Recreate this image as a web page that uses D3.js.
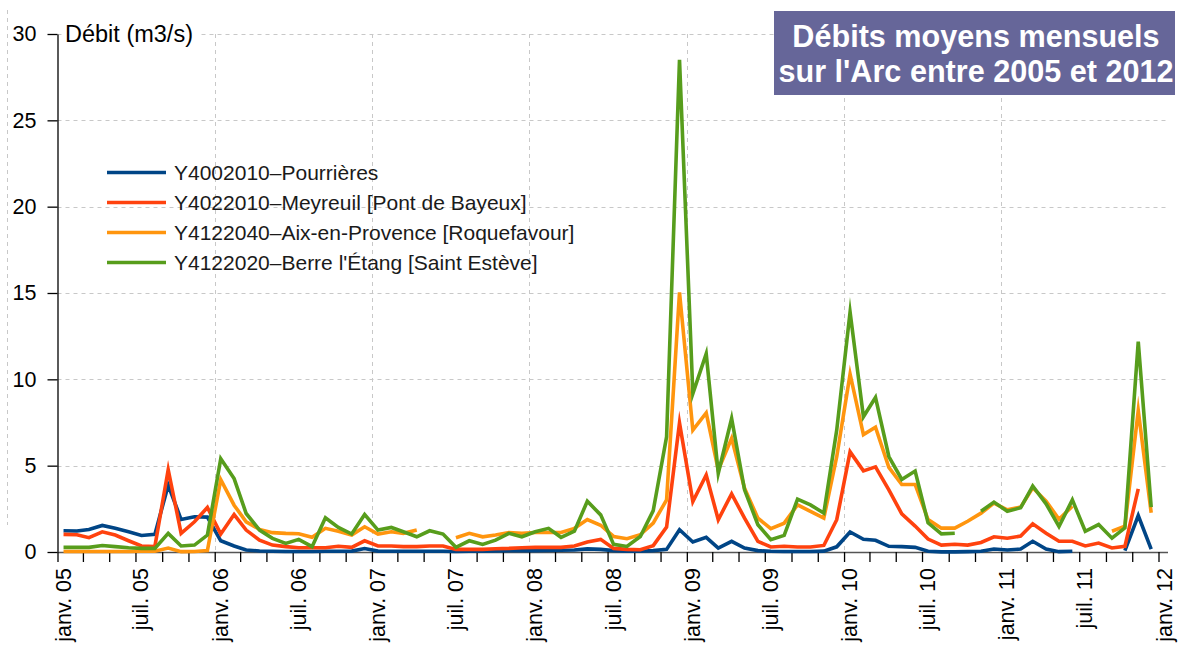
<!DOCTYPE html>
<html>
<head>
<meta charset="utf-8">
<script src="https://cdn.jsdelivr.net/npm/d3@7"></script>
<style>
  html, body { margin: 0; padding: 0; background: #ffffff; }
  svg { display: block; font-family: 'Liberation Sans', Arial, Helvetica, sans-serif; }
</style>
</head>
<body>
<svg id="chart" width="1179" height="653"></svg>
<script>
// Monthly mean discharge (m3/s), January 2005 to December 2011, one value per month.
// null = no measurement for that month.
const firstMonth = new Date(2005, 0, 1);
const lastMonth = new Date(2011, 11, 1);

const pourrieres = [
  1.23, 1.22, 1.30, 1.54, 1.37, 1.17, 0.96, 1.02, 3.87, 1.88, 2.04, 2.02,
  0.65, 0.35, 0.12, 0.06, 0.04, 0.03, 0.03, 0.03, 0.04, 0.04, 0.05, 0.20,
  0.05, 0.04, 0.04, 0.04, 0.04, 0.04, 0.03, 0.04, 0.05, 0.06, 0.07, 0.08,
  0.08, 0.09, 0.10, 0.12, 0.18, 0.15, 0.08, 0.04, 0.04, 0.08, 0.15, 1.29,
  0.58, 0.85, 0.23, 0.62, 0.23, 0.08, 0.04, 0.03, 0.03, 0.03, 0.05, 0.30,
  1.16, 0.74, 0.68, 0.33, 0.31, 0.27, 0.04, 0.01, 0.01, 0.02, 0.04, 0.17,
  0.12, 0.17, 0.62, 0.17, 0.02, 0.04, null, null, null, 0.08, 2.11, 0.17
];

const meyreuil = [
  1.02, 1.00, 0.83, 1.17, 0.98, 0.65, 0.35, 0.31, 4.77, 1.08, 1.75, 2.58,
  1.04, 2.17, 1.27, 0.69, 0.40, 0.31, 0.25, 0.25, 0.25, 0.33, 0.27, 0.65,
  0.35, 0.35, 0.31, 0.31, 0.35, 0.35, 0.15, 0.15, 0.15, 0.19, 0.21, 0.25,
  0.27, 0.27, 0.27, 0.35, 0.58, 0.73, 0.21, 0.15, 0.13, 0.37, 1.44, 7.48,
  2.92, 4.46, 1.87, 3.37, 1.96, 0.62, 0.29, 0.33, 0.29, 0.29, 0.38, 1.87,
  5.80, 4.70, 4.93, 3.60, 2.21, 1.50, 0.75, 0.40, 0.45, 0.40, 0.55, 0.88,
  0.80, 0.92, 1.63, 1.09, 0.62, 0.62, 0.35, 0.52, 0.23, 0.33, 3.66, null
];

const roquefavour = [
  0.03, 0.03, 0.03, 0.03, 0.03, 0.03, 0.04, 0.04, 0.23, 0.02, 0.03, 0.08,
  4.19, 2.71, 1.75, 1.31, 1.12, 1.08, 1.06, 0.85, 1.37, 1.20, 0.98, 1.46,
  1.04, 1.17, 1.08, 1.27, null, null, 0.83, 1.08, 0.88, 0.98, 1.13, 1.08,
  1.13, 1.13, 1.13, 1.37, 1.88, 1.55, 0.90, 0.77, 1.00, 1.67, 3.02, 15.04,
  7.06, 8.06, 4.75, 6.58, 3.69, 1.96, 1.35, 1.67, 2.73, 2.35, 1.96, 5.52,
  10.30, 6.80, 7.23, 4.90, 3.91, 3.91, 1.88, 1.38, 1.38, 1.78, 2.25, 2.83,
  2.44, 2.60, 3.72, 2.95, 1.90, 2.65, null, null, 1.20, 1.50, 8.20, 2.27
];

const saintEsteve = [
  0.27, 0.27, 0.27, 0.38, 0.31, 0.25, 0.21, 0.21, 1.08, 0.35, 0.40, 0.98,
  5.40, 4.25, 2.23, 1.27, 0.79, 0.50, 0.73, 0.31, 1.98, 1.42, 1.04, 2.17,
  1.27, 1.42, 1.17, 0.88, 1.23, 1.04, 0.27, 0.65, 0.44, 0.69, 1.08, 0.88,
  1.17, 1.37, 0.85, 1.21, 2.94, 2.15, 0.44, 0.32, 0.90, 2.40, 6.67, 28.50,
  9.17, 11.48, 4.56, 7.73, 3.60, 1.58, 0.71, 0.96, 3.06, 2.73, 2.25, 7.06,
  13.90, 7.83, 8.95, 5.53, 4.20, 4.69, 1.69, 1.05, 1.09, null, 2.36, 2.89,
  2.36, 2.56, 3.82, 2.79, 1.48, 3.02, 1.20, 1.59, 0.80, 1.40, 12.19, 2.60
];

const seriesNames = [
  "Y4002010\u2013Pourrières",
  "Y4022010\u2013Meyreuil [Pont de Bayeux]",
  "Y4122040\u2013Aix-en-Provence [Roquefavour]",
  "Y4122020\u2013Berre l'Étang [Saint Estève]"
];
const seriesColors = ["#004586", "#ff420e", "#ff950e", "#579d1c"];

const yTicks = [0, 5, 10, 15, 20, 25, 30];
const xTickLabels = [
  "janv. 05", "juil. 05", "janv. 06", "juil. 06", "janv. 07", "juil. 07",
  "janv. 08", "juil. 08", "janv. 09", "juil. 09", "janv. 10", "juil. 10",
  "janv. 11", "juil. 11", "janv. 12"
];
const yAxisTitle = "Débit (m3/s)";
const titleLines = ["Débits moyens mensuels", "sur l'Arc entre 2005 et 2012"];

// ---------------------------------------------------------------------
const svg = d3.select("#chart");
const FONT = 21.5;

const x = d3.scaleTime()
  .domain([new Date(2005, 0, 1), new Date(2012, 0, 1)])
  .range([57.5, 1158.5]);
const y = d3.scaleLinear().domain([0, 30]).range([552, 34]);
const plotRight = 1168;

// each value sits in the middle of its month
const months = d3.timeMonth.range(firstMonth, d3.timeMonth.offset(lastMonth, 1));
const midMonth = m => new Date(m.getFullYear(), m.getMonth(), 15);

// dashed frame line at the far left
svg.append("line")
  .attr("x1", 7.5).attr("x2", 7.5).attr("y1", 10).attr("y2", 525)
  .attr("stroke", "#c8c8c8").attr("stroke-width", 1).attr("stroke-dasharray", "4,4");

// grid
const grid = svg.append("g").attr("stroke", "#c8c8c8").attr("stroke-width", 1)
  .attr("stroke-dasharray", "4,4");
grid.selectAll("line.h").data(yTicks.filter(v => v > 0)).join("line")
  .attr("class", "h")
  .attr("x1", x.range()[0]).attr("x2", plotRight)
  .attr("y1", d => Math.round(y(d)) + 0.5).attr("y2", d => Math.round(y(d)) + 0.5);
const yearStarts = d3.timeYear.range(new Date(2006, 0, 1), new Date(2012, 0, 1));
grid.selectAll("line.v").data(yearStarts).join("line")
  .attr("class", "v")
  .attr("x1", d => Math.round(x(d)) + 0.5).attr("x2", d => Math.round(x(d)) + 0.5)
  .attr("y1", y(30)).attr("y2", y(0));

// axis title on a white backing over the top gridline
const yTitle = svg.append("text")
  .attr("x", 65).attr("y", y(30)).attr("dy", "0.35em")
  .attr("font-size", 23.5).attr("fill", "#000")
  .text(yAxisTitle);
const bb = yTitle.node().getBBox();
svg.insert("rect", "text")
  .attr("x", bb.x - 3).attr("y", bb.y).attr("width", bb.width + 8).attr("height", bb.height)
  .attr("fill", "#fff");

// y axis
const yAxis = svg.append("g")
  .attr("transform", `translate(${x.range()[0]},0)`)
  .call(d3.axisLeft(y).tickValues(yTicks).tickSize(10).tickSizeOuter(0).tickPadding(11));
yAxis.select(".domain").attr("stroke", "#000").attr("stroke-width", 1.3);
yAxis.selectAll(".tick line").attr("stroke", "#000").attr("stroke-width", 1.3);
yAxis.selectAll(".tick text").attr("font-size", FONT).attr("font-family", null).attr("fill", "#000");

// x axis: a tick every two months, a label every six
const xTicks = d3.timeMonth.every(2).range(new Date(2005, 0, 1), new Date(2012, 0, 2));
const xAxis = svg.append("g")
  .attr("transform", `translate(0,${y(0)})`)
  .call(d3.axisBottom(x).tickValues(xTicks).tickSize(10).tickSizeOuter(0).tickFormat(""));
xAxis.select(".domain").attr("d", `M${x.range()[0]},0.5H${plotRight}`)
  .attr("stroke", "#555").attr("stroke-width", 1.3);
xAxis.selectAll(".tick line").attr("stroke", "#000").attr("stroke-width", 1.3);

const labelDates = xTickLabels.map((t, k) => d3.timeMonth.offset(firstMonth, 6 * k));
svg.append("g").selectAll("text").data(xTickLabels).join("text")
  .attr("transform", (d, k) => `translate(${x(labelDates[k]) + 13},568) rotate(-90)`)
  .attr("text-anchor", "end")
  .attr("font-size", FONT).attr("fill", "#000")
  .text(d => d);

// series lines
const allSeries = [pourrieres, meyreuil, roquefavour, saintEsteve];
const line = d3.line()
  .defined(d => d.v != null)
  .x(d => x(d.date))
  .y(d => y(d.v));
svg.append("g").selectAll("path").data(allSeries).join("path")
  .attr("fill", "none")
  .attr("stroke", (d, k) => seriesColors[k])
  .attr("stroke-width", 3.6)
  .attr("stroke-linejoin", "miter")
  .attr("stroke-miterlimit", 10)
  .attr("d", s => line(s.map((v, i) => ({ date: midMonth(months[i]), v }))));

// legend
const legend = svg.append("g");
seriesNames.forEach((name, k) => {
  const ly = 172.5 + k * 30;
  legend.append("line")
    .attr("x1", 107).attr("x2", 166).attr("y1", ly).attr("y2", ly)
    .attr("stroke", seriesColors[k]).attr("stroke-width", 3.5);
  legend.append("text")
    .attr("x", 174).attr("y", ly).attr("dy", "0.35em")
    .attr("font-size", 21).attr("fill", "#1a1a1a")
    .text(name);
});

// title box
const title = svg.append("g");
title.append("rect")
  .attr("x", 774).attr("y", 11).attr("width", 401).attr("height", 84)
  .attr("fill", "#666699");
titleLines.forEach((t, k) => {
  title.append("text")
    .attr("x", 976).attr("y", 47 + k * 35)
    .attr("text-anchor", "middle")
    .attr("font-size", 30.6).attr("font-weight", "bold").attr("fill", "#fff")
    .text(t);
});
</script>
</body>
</html>
